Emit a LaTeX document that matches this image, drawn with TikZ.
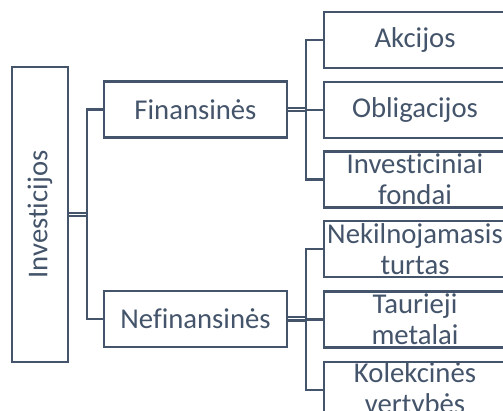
\documentclass[tikz,border=0pt]{standalone}
\usepackage{fontspec}
\setmainfont{Carlito}[Ligatures=NoCommon]
\definecolor{slate}{HTML}{44546A}
\begin{document}
\begin{tikzpicture}[x=1pt,y=-1pt,
  txt/.style={text=slate, font=\fontsize{28.7}{31}\selectfont},
  box/.style={txt, draw=slate, line width=2.2pt, fill=white, inner sep=0pt,
    minimum width=183pt, minimum height=56pt},
  leaf/.style={box, minimum width=182pt},
  lbl/.style={txt, align=center, inner sep=0pt},
  conn/.style={draw=slate, line width=2.2pt},
  trunk/.style={conn, double=white, double distance=1pt}]
\useasboundingbox (0,0) rectangle (503,411);
\fill[white] (0,0) rectangle (503,411);
\clip (0,0) rectangle (503,411);

% root
\node[box, minimum width=56pt, minimum height=295pt,
  label={[lbl, rotate=90]center:Investicijos}] (inv) at (40,214.5) {};

% second level
\node[box] (fin) at (195.5,109.5) {Finansinės};
\node[box] (nef) at (195.5,319) {Nefinansinės};

% leaves
\node[leaf] (c1) at (415,40) {Akcijos};
\node[leaf] (c2) at (415,110) {Obligacijos};
\node[leaf, label={[lbl]center:Investiciniai\\fondai}] (c3) at (415,179.5) {};
\node[leaf, label={[lbl]center:Nekilnojamasis\\turtas}] (c4) at (415,249) {};
\node[leaf, label={[lbl]center:Taurieji\\metalai}] (c5) at (415,319.5) {};
\node[leaf, label={[lbl]center:Kolekcinės\\vertybės}] (c6) at (415,390) {};

% branch points
\coordinate (hubA) at (87,214.5);
\coordinate (hubB) at (306,110);
\coordinate (hubC) at (306,319.5);

% connectors
\draw[trunk] (inv.east) -- (inv.east -| hubA);
\draw[conn] (fin.west) -| (hubA) |- (nef.west);

\draw[trunk] (fin.east) -- (fin.east -| hubB);
\draw[conn] (c1.west) -| (hubB) |- (c3.west);
\draw[conn] (c2.west) -- (c2.west -| hubB);

\draw[trunk] (nef.east) -- (nef.east -| hubC);
\draw[conn] (c4.west) -| (hubC) |- (c6.west);
\draw[conn] (c5.west) -- (c5.west -| hubC);
\end{tikzpicture}
\end{document}
